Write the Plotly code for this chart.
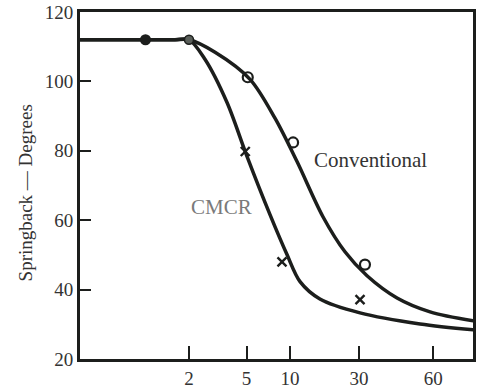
import plotly.graph_objects as go

# ---- data (x is on a log scale) ----
conv_curve_x = [0.35, 1.0, 1.6, 2.0, 3.03, 5.29, 7.87, 11.18, 16.9, 24.0, 34.1, 55.0, 93.1, 185]
conv_curve_y = [112, 112, 112, 112, 108.4, 100.6, 89.4, 76.9, 61.0, 50.9, 44.0, 37.6, 33.6, 31.0]

cmcr_curve_x = [0.35, 1.0, 1.6, 2.0, 2.58, 3.66, 5.04, 7.27, 9.53, 11.73, 16.1, 30.5, 79.4, 185]
cmcr_curve_y = [112, 112, 112, 112, 106.4, 94.0, 78.4, 61.6, 50.1, 42.3, 37.3, 33.3, 30.1, 28.4]

start_x = [1.0]
start_y = [112]
shared_x = [2.0]
shared_y = [112]

conv_pts_x = [5.1, 10.5, 33.0]
conv_pts_y = [101.2, 82.4, 47.2]

cmcr_pts_x = [4.9, 8.8, 30.5]
cmcr_pts_y = [79.8, 48.0, 37.1]

x_tick_vals = [2, 5, 10, 30, 98]
x_tick_text = ["2", "5", "10", "30", "60"]
y_tick_vals = [20, 40, 60, 80, 100, 120]

INK = "#1c1e1c"
FONT = "Liberation Serif"

fig = go.Figure()
for cx, cy in ((conv_curve_x, conv_curve_y), (cmcr_curve_x, cmcr_curve_y)):
    fig.add_trace(go.Scatter(x=cx, y=cy, mode="lines",
                             line=dict(color=INK, width=3.5, shape="spline", smoothing=0.9),
                             showlegend=False, hoverinfo="skip"))
fig.add_trace(go.Scatter(x=start_x, y=start_y, mode="markers",
                         marker=dict(symbol="circle", size=11, color=INK),
                         showlegend=False))
fig.add_trace(go.Scatter(x=shared_x, y=shared_y, mode="markers",
                         marker=dict(symbol="circle", size=9, color="#5a5f5a",
                                     line=dict(color=INK, width=1.5)),
                         showlegend=False))
fig.add_trace(go.Scatter(x=conv_pts_x, y=conv_pts_y, mode="markers",
                         marker=dict(symbol="circle-open", size=10, color=INK,
                                     line=dict(color=INK, width=2.2)),
                         showlegend=False))
fig.add_trace(go.Scatter(x=cmcr_pts_x, y=cmcr_pts_y, mode="markers",
                         marker=dict(symbol="x-thin-open", size=9, color=INK,
                                     line=dict(color=INK, width=2.4)),
                         showlegend=False))

fig.add_annotation(x=1.554, y=77.4, xref="x", yref="y", text="Conventional",
                   showarrow=False, font=dict(family=FONT, size=21, color="#333333"))
fig.add_annotation(x=0.529, y=63.8, xref="x", yref="y", text="CMCR",
                   showarrow=False, font=dict(family=FONT, size=21, color="#7a7a7a"))
fig.add_annotation(x=-0.14, y=0.48, xref="paper", yref="paper",
                   text="Springback — Degrees", textangle=-90, showarrow=False,
                   xanchor="center", yanchor="middle",
                   font=dict(family=FONT, size=19, color="#333333"))

fig.update_xaxes(type="log", range=[-0.453, 2.266], automargin=False,
                 tickmode="array", tickvals=x_tick_vals, ticktext=x_tick_text,
                 ticks="inside", ticklen=13, tickwidth=2.2, tickcolor=INK,
                 showline=True, linecolor=INK, linewidth=3, mirror=True,
                 showgrid=False, zeroline=False,
                 tickfont=dict(family=FONT, size=19, color="#333333"))
fig.update_yaxes(range=[20, 120], automargin=False,
                 tickmode="array", tickvals=y_tick_vals,
                 ticks="inside", ticklen=11, tickwidth=2.2, tickcolor=INK,
                 showline=True, linecolor=INK, linewidth=3, mirror=True,
                 showgrid=False, zeroline=False,
                 tickfont=dict(family=FONT, size=19, color="#333333"))

fig.update_layout(width=486, height=388,
                  margin=dict(l=80, r=13, t=12, b=29),
                  paper_bgcolor="white", plot_bgcolor="white",
                  showlegend=False)

fig.write_html("out.html")
